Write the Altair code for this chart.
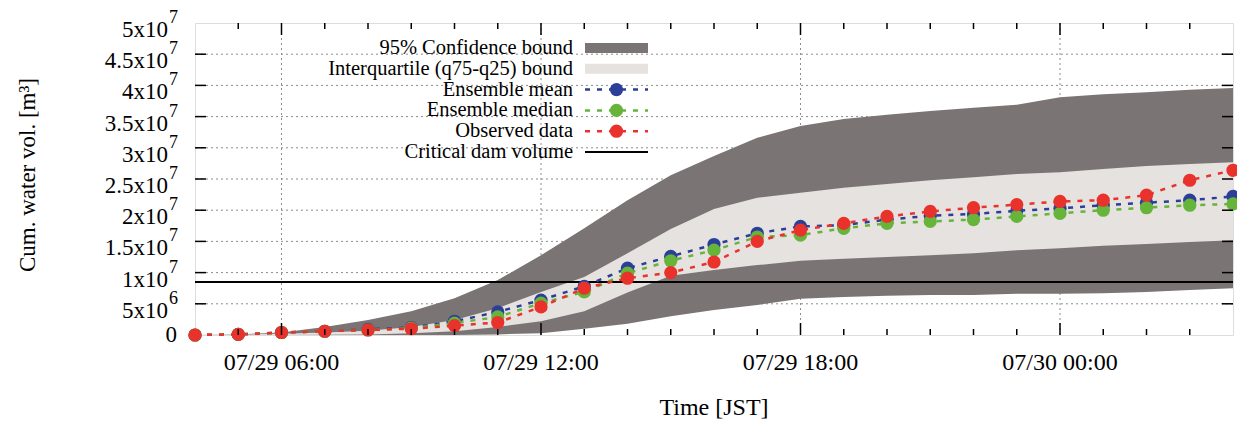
import altair as alt
import pandas as pd

# Hourly time stamps (JST), 07/29 04:00 -> 07/30 04:00
times = pd.date_range("2020-07-29 04:00", "2020-07-30 04:00", freq="h")

# Cumulative water volume, in units of 10^6 m^3
hi95 = [0, 0.1, 0.4, 1.3, 2.4, 3.8, 5.9, 8.8, 12.8, 17.1, 21.6, 25.6, 28.7, 31.6,
        33.5, 34.6, 35.3, 35.9, 36.4, 36.9, 38.1, 38.6, 38.9, 39.3, 39.6]
q75 = [0, 0.05, 0.2, 0.4, 0.7, 1.3, 2.4, 4.3, 6.9, 9.3, 13.1, 17.0, 20.2, 22.0,
       22.8, 23.6, 24.2, 24.8, 25.3, 25.8, 26.1, 26.6, 27.1, 27.4, 27.7]
q25 = [0, 0, 0, 0.05, 0.1, 0.3, 0.6, 1.3, 2.2, 3.8, 6.8, 9.5, 10.4, 11.2,
       11.9, 12.2, 12.5, 12.8, 13.1, 13.6, 13.9, 14.3, 14.6, 14.9, 15.2]
lo95 = [0, 0, 0, 0, 0, 0, 0, 0.1, 0.3, 1.0, 1.8, 3.0, 4.0, 4.8,
        5.8, 6.1, 6.3, 6.4, 6.4, 6.6, 6.6, 6.7, 6.9, 7.2, 7.5]
ens_mean = [0, 0.1, 0.4, 0.6, 0.9, 1.2, 2.2, 3.7, 5.6, 7.8, 10.7, 12.6, 14.5, 16.3,
            17.4, 17.6, 18.5, 19.1, 19.4, 19.9, 20.3, 20.8, 21.2, 21.6, 22.2]
ens_median = [0, 0.1, 0.4, 0.6, 0.8, 1.1, 1.9, 2.9, 5.1, 6.9, 9.9, 11.9, 13.6, 15.7,
              16.0, 17.1, 17.9, 18.2, 18.5, 19.0, 19.5, 20.0, 20.4, 20.8, 21.0]
observed = [0, 0.1, 0.4, 0.6, 0.8, 1.0, 1.5, 2.0, 4.5, 7.5, 9.1, 10.0, 11.7, 15.0,
            16.8, 17.9, 19.0, 19.8, 20.4, 20.9, 21.4, 21.6, 22.4, 24.8, 26.4]
critical_volume = 8.5  # 10^6 m^3

# Y tick labels written as mantissa x 10^exponent
ytick_values = [0, 5e6, 1e7, 1.5e7, 2e7, 2.5e7, 3e7, 3.5e7, 4e7, 4.5e7, 5e7]
ytick_base = ["0", "5x10", "1x10", "1.5x10", "2x10", "2.5x10", "3x10", "3.5x10",
              "4x10", "4.5x10", "5x10"]
ytick_exp = ["", "6", "7", "7", "7", "7", "7", "7", "7", "7", "7"]

legend_labels = ["95% Confidence bound", "Interquartile (q75-q25) bound",
                 "Ensemble mean", "Ensemble median", "Observed data",
                 "Critical dam volume"]
x_title = "Time [JST]"
y_title = "Cum. water vol. [m³]"

W, H = 1038, 312
FONT = "Liberation Serif"
DARK, LIGHT = "#7b7474", "#e6e2e0"
GRID = "#8c8c8c"
BLUE, GREEN, RED = "#2b3e98", "#66b43a", "#e8322b"
series_colors = {"mean": BLUE, "median": GREEN, "obs": RED}

M = 1e6
df = pd.DataFrame({
    "time": times,
    "hi95": [v * M for v in hi95],
    "q75": [v * M for v in q75],
    "q25": [v * M for v in q25],
    "lo95": [v * M for v in lo95],
    "mean": [v * M for v in ens_mean],
    "median": [v * M for v in ens_median],
    "obs": [v * M for v in observed],
})

x_dom = [alt.DateTime(year=2020, month=7, date=29, hours=4),
         alt.DateTime(year=2020, month=7, date=30, hours=4)]
xscale = alt.Scale(domain=x_dom, nice=False)
yscale = alt.Scale(domain=[0, 5e7], nice=False, zero=True)


def X(field):
    return alt.X(field, scale=xscale, axis=None)


def Y(field):
    return alt.Y(field, scale=yscale, axis=None)


# Hourly tick positions; every 6th hour is a major (labelled, gridded) tick
hour_df = pd.DataFrame({"t": times[1:-1]})
hour_df["major"] = hour_df["t"].dt.hour % 6 == 0
minor_df = hour_df[~hour_df["major"]]
major_df = hour_df[hour_df["major"]]
ytick_df = pd.DataFrame({"v": ytick_values[1:-1]})

# Dotted grid behind everything
grid_h = alt.Chart(ytick_df).mark_rule(color=GRID, strokeWidth=1, strokeDash=[2, 3]).encode(
    y=Y("v:Q"))
grid_v = alt.Chart(major_df).mark_rule(color=GRID, strokeWidth=1, strokeDash=[2, 3]).encode(
    x=X("t:T"))

base = alt.Chart(df)
band95 = base.mark_area(color=DARK, opacity=1).encode(
    x=X("time:T"), y=Y("lo95:Q"), y2="hi95:Q")
band_iqr = base.mark_area(color=LIGHT, opacity=1).encode(
    x=X("time:T"), y=Y("q25:Q"), y2="q75:Q")

crit_df = pd.DataFrame({"v": [critical_volume * M]})
critical = alt.Chart(crit_df).mark_rule(color="black", strokeWidth=2).encode(y=Y("v:Q"))

series_layers = []
for key in ["mean", "median", "obs"]:
    series_layers.append(base.mark_line(
        color=series_colors[key], strokeWidth=2.5, strokeDash=[5, 7]).encode(
        x=X("time:T"), y=Y(f"{key}:Q")))
for key in ["mean", "median", "obs"]:
    series_layers.append(base.mark_circle(
        color=series_colors[key], size=175, opacity=1).encode(
        x=X("time:T"), y=Y(f"{key}:Q")))

# Inward tick marks on all four sides
ytick_left = alt.Chart(ytick_df).mark_rule(color="black", strokeWidth=1.5).encode(
    y=Y("v:Q"), x=alt.value(0), x2=alt.value(11))
ytick_right = alt.Chart(ytick_df).mark_rule(color="black", strokeWidth=1.5).encode(
    y=Y("v:Q"), x=alt.value(W - 11), x2=alt.value(W))


def xticks(data, length):
    bottom = alt.Chart(data).mark_rule(color="black", strokeWidth=1.5).encode(
        x=X("t:T"), y=alt.value(H), y2=alt.value(H - length))
    top = alt.Chart(data).mark_rule(color="black", strokeWidth=1.5).encode(
        x=X("t:T"), y=alt.value(0), y2=alt.value(length))
    return [bottom, top]


tick_layers = [ytick_left, ytick_right, *xticks(minor_df, 6), *xticks(major_df, 12)]

# X tick labels under the major ticks
xlab = alt.Chart(major_df).transform_calculate(
    label="timeFormat(datum.t, '%m/%d %H:%M')"
).mark_text(align="center", baseline="middle", font=FONT, fontSize=24, color="black").encode(
    x=X("t:T"), y=alt.value(H + 28), text="label:N")

# Y tick labels: mantissa x 10 with a raised exponent
ylab_df = pd.DataFrame({"v": ytick_values, "base": ytick_base, "exp": ytick_exp})
ylab_zero = alt.Chart(ylab_df[ylab_df["exp"] == ""]).mark_text(
    align="right", baseline="middle", font=FONT, fontSize=23, color="black").encode(
    y=Y("v:Q"), x=alt.value(-18), text="base:N")
ylab_base = alt.Chart(ylab_df[ylab_df["exp"] != ""]).mark_text(
    align="right", baseline="middle", font=FONT, fontSize=23, color="black", dy=7).encode(
    y=Y("v:Q"), x=alt.value(-27), text="base:N")
ylab_exp = alt.Chart(ylab_df[ylab_df["exp"] != ""]).mark_text(
    align="left", baseline="middle", font=FONT, fontSize=18, color="black", dy=-5).encode(
    y=Y("v:Q"), x=alt.value(-26), text="exp:N")

one = pd.DataFrame({"k": [0]})

# Axis titles
title_x = alt.Chart(one).mark_text(
    align="center", baseline="middle", font=FONT, fontSize=24, color="black",
    text=x_title).encode(x=alt.value(W / 2), y=alt.value(385))
title_y = alt.Chart(one).mark_text(
    align="center", baseline="middle", font=FONT, fontSize=23, color="black",
    angle=270, text=y_title).encode(x=alt.value(-167), y=alt.value(152))

# Key in the upper left of the plot: labels right-aligned, samples to their right
KEY_TEXT_X, KEY_X1, KEY_X2 = 378, 390, 453
key_layers = []
for i, label in enumerate(legend_labels):
    yr = 25 + i * 20.8
    key_layers.append(alt.Chart(one).mark_text(
        align="right", baseline="middle", font=FONT, fontSize=20.5, color="black",
        text=label).encode(x=alt.value(KEY_TEXT_X), y=alt.value(yr)))
    if i in (0, 1):
        key_layers.append(alt.Chart(one).mark_rect(color=DARK if i == 0 else LIGHT).encode(
            x=alt.value(KEY_X1), x2=alt.value(KEY_X2), y=alt.value(yr - 5), y2=alt.value(yr + 5)))
    elif i in (2, 3, 4):
        c = [BLUE, GREEN, RED][i - 2]
        key_layers.append(alt.Chart(one).mark_rule(color=c, strokeWidth=2.5, strokeDash=[5, 7]).encode(
            x=alt.value(KEY_X1), x2=alt.value(KEY_X2), y=alt.value(yr)))
        key_layers.append(alt.Chart(one).mark_circle(color=c, size=175, opacity=1).encode(
            x=alt.value((KEY_X1 + KEY_X2) / 2), y=alt.value(yr)))
    else:
        key_layers.append(alt.Chart(one).mark_rule(color="black", strokeWidth=2).encode(
            x=alt.value(KEY_X1), x2=alt.value(KEY_X2), y=alt.value(yr)))

chart = alt.layer(
    grid_h, grid_v, band95, band_iqr, critical, *series_layers, *tick_layers,
    xlab, ylab_zero, ylab_base, ylab_exp, title_x, title_y, *key_layers,
).properties(
    width=W, height=H,
    autosize=alt.AutoSizeParams(type="none"),
    padding={"left": 195, "top": 23, "right": 4, "bottom": 89},
).configure_view(
    stroke="black", strokeWidth=2,
).configure(background="white")

chart.save("out.html", embed_options={"renderer": "svg", "actions": False})
